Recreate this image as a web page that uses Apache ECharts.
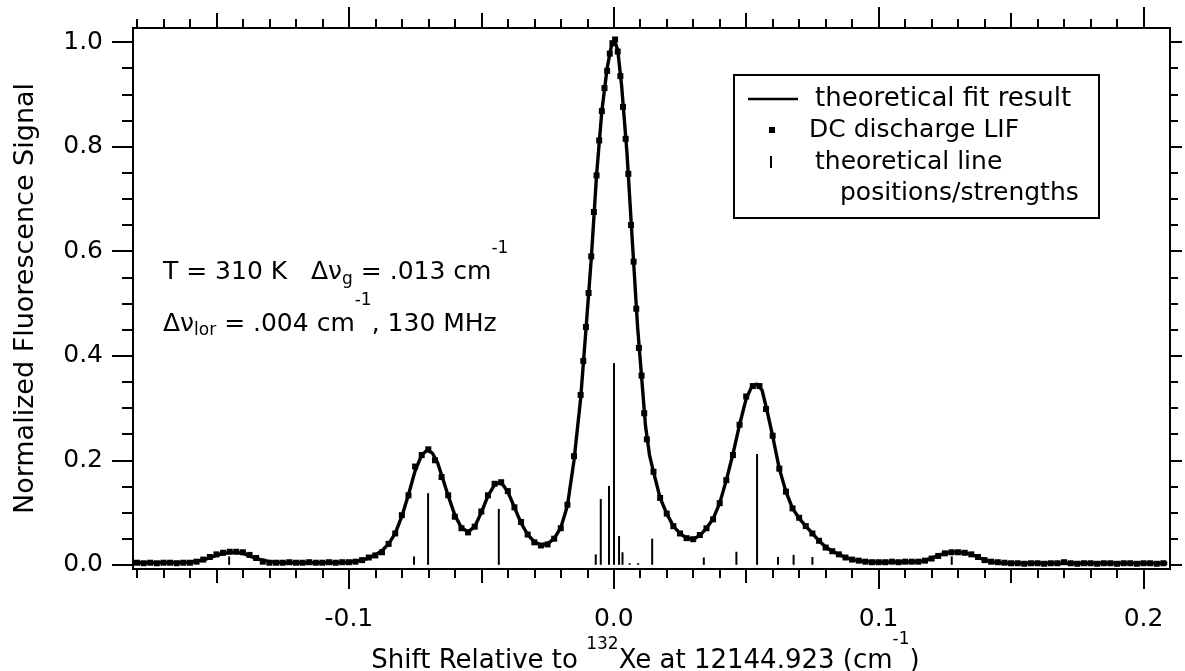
<!DOCTYPE html>
<html>
<head>
<meta charset="utf-8">
<script src="https://cdn.jsdelivr.net/npm/echarts@6/dist/echarts.min.js"></script>
<style>
html,body{margin:0;padding:0;background:#fff;}
#chart{width:1185px;height:671px;}
</style>
</head>
<body>
<div id="chart"></div>
<script>
// ---- tick values ----
const xMajorTicks = [-0.1, 0, 0.1, 0.2];
const xMidTicks = [-0.15, -0.05, 0.05, 0.15];
const xMinorTicks = [-0.18,-0.17,-0.16,-0.14,-0.13,-0.12,-0.11,-0.09,-0.08,-0.07,-0.06,-0.04,-0.03,-0.02,-0.01,
  0.01,0.02,0.03,0.04,0.06,0.07,0.08,0.09,0.11,0.12,0.13,0.14,0.16,0.17,0.18,0.19];
const yMajorTicks = [0, 0.2, 0.4, 0.6, 0.8, 1.0];
const yMinorTicks = [0.05,0.1,0.15,0.25,0.3,0.35,0.45,0.5,0.55,0.65,0.7,0.75,0.85,0.9,0.95];

// ---- theoretical line positions / strengths [shift, strength] ----
const stickData = [
  [-0.1452,0.016],[-0.0754,0.016],[-0.0701,0.137],[-0.0434,0.107],
  [-0.0068,0.020],[-0.0049,0.126],[-0.0018,0.151],[0.0001,0.386],[0.0020,0.055],[0.0033,0.024],
  [0.0060,0.003],[0.0092,0.003],[0.0145,0.050],[0.0340,0.014],[0.0463,0.025],[0.0541,0.212],
  [0.0620,0.015],[0.0679,0.019],[0.0750,0.015],[0.1276,0.016]
];

// ---- DC discharge LIF data [shift, signal] ----
const lifData = [
[-0.1800,0.004],[-0.1775,0.003],[-0.1750,0.004],[-0.1725,0.003],[-0.1700,0.004],[-0.1675,0.004],[-0.1650,0.003],[-0.1625,0.004],[-0.1600,0.004],[-0.1575,0.006],
[-0.1550,0.010],[-0.1525,0.015],[-0.1500,0.020],[-0.1475,0.023],[-0.1450,0.025],[-0.1425,0.025],[-0.1400,0.024],[-0.1375,0.019],[-0.1350,0.013],[-0.1325,0.006],
[-0.1300,0.004],[-0.1275,0.004],[-0.1250,0.004],[-0.1225,0.005],[-0.1200,0.004],[-0.1175,0.004],[-0.1150,0.005],[-0.1125,0.004],[-0.1100,0.004],[-0.1075,0.005],
[-0.1050,0.004],[-0.1025,0.005],[-0.1000,0.005],[-0.0975,0.006],[-0.0950,0.009],[-0.0925,0.014],[-0.0900,0.018],[-0.0875,0.024],[-0.0850,0.040],[-0.0825,0.060],
[-0.0800,0.095],[-0.0775,0.133],[-0.0750,0.188],[-0.0725,0.210],[-0.0700,0.221],[-0.0675,0.200],[-0.0650,0.168],[-0.0625,0.133],[-0.0600,0.092],[-0.0575,0.070],
[-0.0550,0.062],[-0.0525,0.073],[-0.0500,0.102],[-0.0475,0.133],[-0.0450,0.155],[-0.0425,0.158],[-0.0400,0.141],[-0.0375,0.110],[-0.0350,0.082],[-0.0325,0.058],
[-0.0300,0.043],[-0.0275,0.037],[-0.0250,0.039],[-0.0225,0.050],[-0.0200,0.070],[-0.0175,0.115],[-0.0150,0.208],[-0.0125,0.325],[-0.0115,0.390],[-0.0105,0.455],
[-0.0095,0.520],[-0.0085,0.590],[-0.0075,0.675],[-0.0065,0.745],[-0.0055,0.812],[-0.0045,0.868],[-0.0035,0.912],[-0.0025,0.945],[-0.0015,0.978],[-0.0005,0.998],
[0.0005,1.005],[0.0015,0.982],[0.0025,0.935],[0.0035,0.876],[0.0045,0.815],[0.0055,0.748],[0.0065,0.650],[0.0075,0.580],[0.0085,0.490],[0.0095,0.415],
[0.0105,0.362],[0.0115,0.290],[0.0125,0.240],[0.0150,0.178],[0.0175,0.128],[0.0200,0.098],[0.0225,0.074],[0.0250,0.060],[0.0275,0.051],[0.0300,0.049],
[0.0325,0.057],[0.0350,0.070],[0.0375,0.087],[0.0400,0.118],[0.0425,0.162],[0.0450,0.210],[0.0475,0.268],[0.0500,0.322],[0.0525,0.342],[0.0550,0.342],
[0.0575,0.298],[0.0600,0.247],[0.0625,0.184],[0.0650,0.140],[0.0675,0.108],[0.0700,0.090],[0.0725,0.074],[0.0750,0.060],[0.0775,0.046],[0.0800,0.033],
[0.0825,0.026],[0.0850,0.020],[0.0875,0.014],[0.0900,0.010],[0.0925,0.008],[0.0950,0.006],[0.0975,0.005],[0.1000,0.005],[0.1025,0.005],[0.1050,0.006],
[0.1075,0.005],[0.1100,0.006],[0.1125,0.006],[0.1150,0.006],[0.1175,0.008],[0.1200,0.012],[0.1225,0.017],[0.1250,0.022],[0.1275,0.024],[0.1300,0.024],
[0.1325,0.023],[0.1350,0.020],[0.1375,0.015],[0.1400,0.009],[0.1425,0.006],[0.1450,0.005],[0.1475,0.004],[0.1500,0.003],[0.1525,0.003],[0.1550,0.002],
[0.1575,0.003],[0.1600,0.003],[0.1625,0.002],[0.1650,0.003],[0.1675,0.003],[0.1700,0.005],[0.1725,0.003],[0.1750,0.002],[0.1775,0.003],[0.1800,0.003],
[0.1825,0.002],[0.1850,0.003],[0.1875,0.003],[0.1900,0.002],[0.1925,0.003],[0.1950,0.003],[0.1975,0.002],[0.2000,0.003],[0.2025,0.003],[0.2050,0.002],[0.2075,0.003]
];

// ---- theoretical fit result [shift, signal] ----
const fitData = [
[-0.181,0.004],[-0.170,0.004],[-0.160,0.005],[-0.155,0.009],[-0.150,0.018],[-0.1475,0.022],[-0.145,0.024],[-0.1425,0.024],[-0.140,0.022],[-0.1375,0.017],
[-0.135,0.012],[-0.130,0.006],[-0.125,0.004],[-0.110,0.004],[-0.100,0.005],[-0.095,0.009],[-0.0925,0.013],[-0.090,0.019],[-0.0875,0.027],[-0.085,0.040],
[-0.0825,0.060],[-0.080,0.093],[-0.0775,0.134],[-0.075,0.180],[-0.0725,0.210],[-0.0705,0.219],[-0.0685,0.214],[-0.0665,0.195],[-0.065,0.172],[-0.0625,0.132],
[-0.060,0.095],[-0.0575,0.071],[-0.055,0.063],[-0.0525,0.073],[-0.050,0.100],[-0.0475,0.132],[-0.045,0.153],[-0.0435,0.157],[-0.042,0.154],[-0.040,0.140],
[-0.0375,0.110],[-0.035,0.080],[-0.0325,0.058],[-0.030,0.044],[-0.0275,0.038],[-0.025,0.040],[-0.0225,0.050],[-0.020,0.071],[-0.0175,0.113],[-0.015,0.200],
[-0.0125,0.318],[-0.0105,0.450],[-0.0085,0.585],[-0.0065,0.745],[-0.0045,0.868],[-0.0025,0.950],[-0.001,0.990],[0.0003,1.003],[0.0015,0.985],[0.003,0.915],
[0.005,0.787],[0.007,0.620],[0.009,0.455],[0.0105,0.360],[0.012,0.265],[0.0135,0.210],[0.015,0.178],[0.0175,0.128],[0.020,0.098],[0.0225,0.074],
[0.025,0.060],[0.0275,0.051],[0.030,0.049],[0.0325,0.056],[0.035,0.070],[0.0375,0.088],[0.040,0.118],[0.0425,0.162],[0.045,0.212],[0.0475,0.268],
[0.050,0.318],[0.052,0.340],[0.054,0.346],[0.056,0.334],[0.058,0.292],[0.060,0.246],[0.0625,0.184],[0.065,0.140],[0.0675,0.108],[0.070,0.089],
[0.0725,0.074],[0.075,0.060],[0.0775,0.046],[0.080,0.034],[0.0825,0.026],[0.085,0.020],[0.0875,0.014],[0.090,0.010],[0.095,0.006],[0.100,0.005],
[0.115,0.006],[0.118,0.009],[0.120,0.013],[0.1225,0.018],[0.125,0.022],[0.1275,0.024],[0.130,0.024],[0.1325,0.023],[0.135,0.020],[0.1375,0.015],
[0.140,0.009],[0.1425,0.006],[0.145,0.004],[0.150,0.003],[0.209,0.003]
];

const X_MIN = -0.1815, X_MAX = 0.21, Y_MIN = -0.008, Y_MAX = 1.027;
const FONT = 'DejaVu Sans';
const BLACK = '#000';

const gridRect = { left: 133, top: 28, right: 15, bottom: 102, outerBoundsMode: 'none', containLabel: false };

function xAx(grid, pos, ticks, len, extra) {
  return Object.assign({
    type: 'value', gridIndex: grid, position: pos, min: X_MIN, max: X_MAX,
    axisLine: { show: false, onZero: false }, splitLine: { show: false },
    axisTick: { show: true, inside: false, customValues: ticks, length: len, lineStyle: { color: BLACK, width: 2 } },
    axisLabel: { show: false }
  }, extra || {});
}
function yAx(grid, pos, ticks, len, extra) {
  return Object.assign({
    type: 'value', gridIndex: grid, position: pos, min: Y_MIN, max: Y_MAX,
    axisLine: { show: false, onZero: false }, splitLine: { show: false },
    axisTick: { show: true, inside: false, customValues: ticks, length: len, lineStyle: { color: BLACK, width: 2 } },
    axisLabel: { show: false }
  }, extra || {});
}

const chart = echarts.init(document.getElementById('chart'), null, { renderer: 'canvas' });

function mainTok(size) { return { fontFamily: FONT, fontSize: size, lineHeight: 30, color: BLACK, verticalAlign: 'middle' }; }
function supTok(raise) { return { fontFamily: FONT, fontSize: 17, lineHeight: 30, color: BLACK, verticalAlign: 'middle', padding: [0, 0, raise * 2, 0] }; }
function subTok(drop) { return { fontFamily: FONT, fontSize: 17, lineHeight: 30, color: BLACK, verticalAlign: 'middle', padding: [drop * 2, 0, 0, 0] }; }

const option = {
  animation: false,
  backgroundColor: '#fff',
  grid: [
    Object.assign({ show: true, borderColor: BLACK, borderWidth: 2, backgroundColor: 'transparent' }, gridRect),
    Object.assign({ show: false }, gridRect),
    Object.assign({ show: false }, gridRect)
  ],
  xAxis: [
    xAx(0, 'bottom', xMajorTicks, 20, {
      axisLabel: { show: true, customValues: xMajorTicks, margin: 38, color: BLACK, fontFamily: FONT, fontSize: 25,
        formatter: v => v.toFixed(1) },
      name: '{t|Shift Relative to }{s|132}{t|Xe at 12144.923 (cm}{s2|-1}{t|)}',
      nameLocation: 'middle', nameGap: 77, nameMoveOverlap: false,
      nameTextStyle: {
        color: BLACK, fontFamily: FONT, fontSize: 26, padding: [0, 12, 0, 0],
        rich: { t: mainTok(26), s: supTok(16), s2: supTok(21) }
      }
    }),
    xAx(0, 'top', xMajorTicks, 21),
    xAx(1, 'bottom', xMidTicks, 14),
    xAx(1, 'top', xMidTicks, 15),
    xAx(2, 'bottom', xMinorTicks, 9),
    xAx(2, 'top', xMinorTicks, 9)
  ],
  yAxis: [
    yAx(0, 'left', yMajorTicks, 21, {
      axisLabel: { show: true, customValues: yMajorTicks, margin: 30, color: BLACK, fontFamily: FONT, fontSize: 25,
        formatter: v => v.toFixed(1) },
      name: 'Normalized Fluorescence Signal', nameLocation: 'middle', nameGap: 94, nameRotate: 90, nameMoveOverlap: false,
      nameTextStyle: { color: BLACK, fontFamily: FONT, fontSize: 27 }
    }),
    yAx(0, 'right', yMajorTicks, 12),
    yAx(1, 'left', yMinorTicks, 11),
    yAx(1, 'right', yMinorTicks, 8),
    yAx(2, 'left', [], 0, { show: false })
  ],
  series: [
    {
      name: 'theoretical line positions/strengths', type: 'custom', xAxisIndex: 0, yAxisIndex: 0,
      encode: { x: 0, y: 1 }, data: stickData, z: 2,
      renderItem: function (params, api) {
        const x = api.value(0), h = api.value(1);
        const p0 = api.coord([x, 0]);
        const p1 = api.coord([x, h]);
        return { type: 'line', shape: { x1: p0[0], y1: p0[1], x2: p1[0], y2: p1[1] },
          style: { stroke: BLACK, lineWidth: 2 } };
      }
    },
    {
      name: 'DC discharge LIF', type: 'scatter', xAxisIndex: 0, yAxisIndex: 0,
      data: lifData, symbol: 'rect', symbolSize: 6, itemStyle: { color: BLACK, opacity: 1 }, z: 3
    },
    {
      name: 'theoretical fit result', type: 'line', xAxisIndex: 0, yAxisIndex: 0,
      data: fitData, showSymbol: false, symbol: 'none', smooth: false,
      lineStyle: { color: BLACK, width: 3.4 }, z: 4
    }
  ],
  graphic: [
    // annotation text
    { type: 'text', left: 163, top: 240, z: 10,
      style: {
        text: '{t|T = 310 K   Δν}{sb|g}{t| = .013 cm}{sp|-1}',
        rich: { t: mainTok(25), sb: subTok(7), sp: supTok(24) }
      } },
    { type: 'text', left: 163, top: 292, z: 10,
      style: {
        text: '{t|Δν}{sb|lor}{t| = .004 cm}{sp|-1}{t|, 130 MHz}',
        rich: { t: mainTok(25), sb: subTok(6), sp: supTok(24) }
      } },
    // legend
    { type: 'rect', shape: { x: 734, y: 75, width: 365, height: 143 }, style: { fill: '#fff', stroke: BLACK, lineWidth: 2 }, z: 10 },
    { type: 'line', shape: { x1: 748, y1: 99, x2: 798, y2: 99 }, style: { stroke: BLACK, lineWidth: 2.5 }, z: 11 },
    { type: 'rect', shape: { x: 769, y: 127, width: 6, height: 6 }, style: { fill: BLACK }, z: 11 },
    { type: 'line', shape: { x1: 771, y1: 156, x2: 771, y2: 168 }, style: { stroke: BLACK, lineWidth: 2 }, z: 11 },
    { type: 'text', x: 815, y: 99, z: 11, style: { text: 'theoretical fit result', fontFamily: FONT, fontSize: 26, fill: BLACK, verticalAlign: 'middle' } },
    { type: 'text', x: 809, y: 130, z: 11, style: { text: 'DC discharge LIF', fontFamily: FONT, fontSize: 25, fill: BLACK, verticalAlign: 'middle' } },
    { type: 'text', x: 815, y: 162, z: 11, style: { text: 'theoretical line', fontFamily: FONT, fontSize: 25, fill: BLACK, verticalAlign: 'middle' } },
    { type: 'text', x: 840, y: 193, z: 11, style: { text: 'positions/strengths', fontFamily: FONT, fontSize: 25, fill: BLACK, verticalAlign: 'middle' } }
  ]
};
chart.setOption(option);
</script>
</body>
</html>
